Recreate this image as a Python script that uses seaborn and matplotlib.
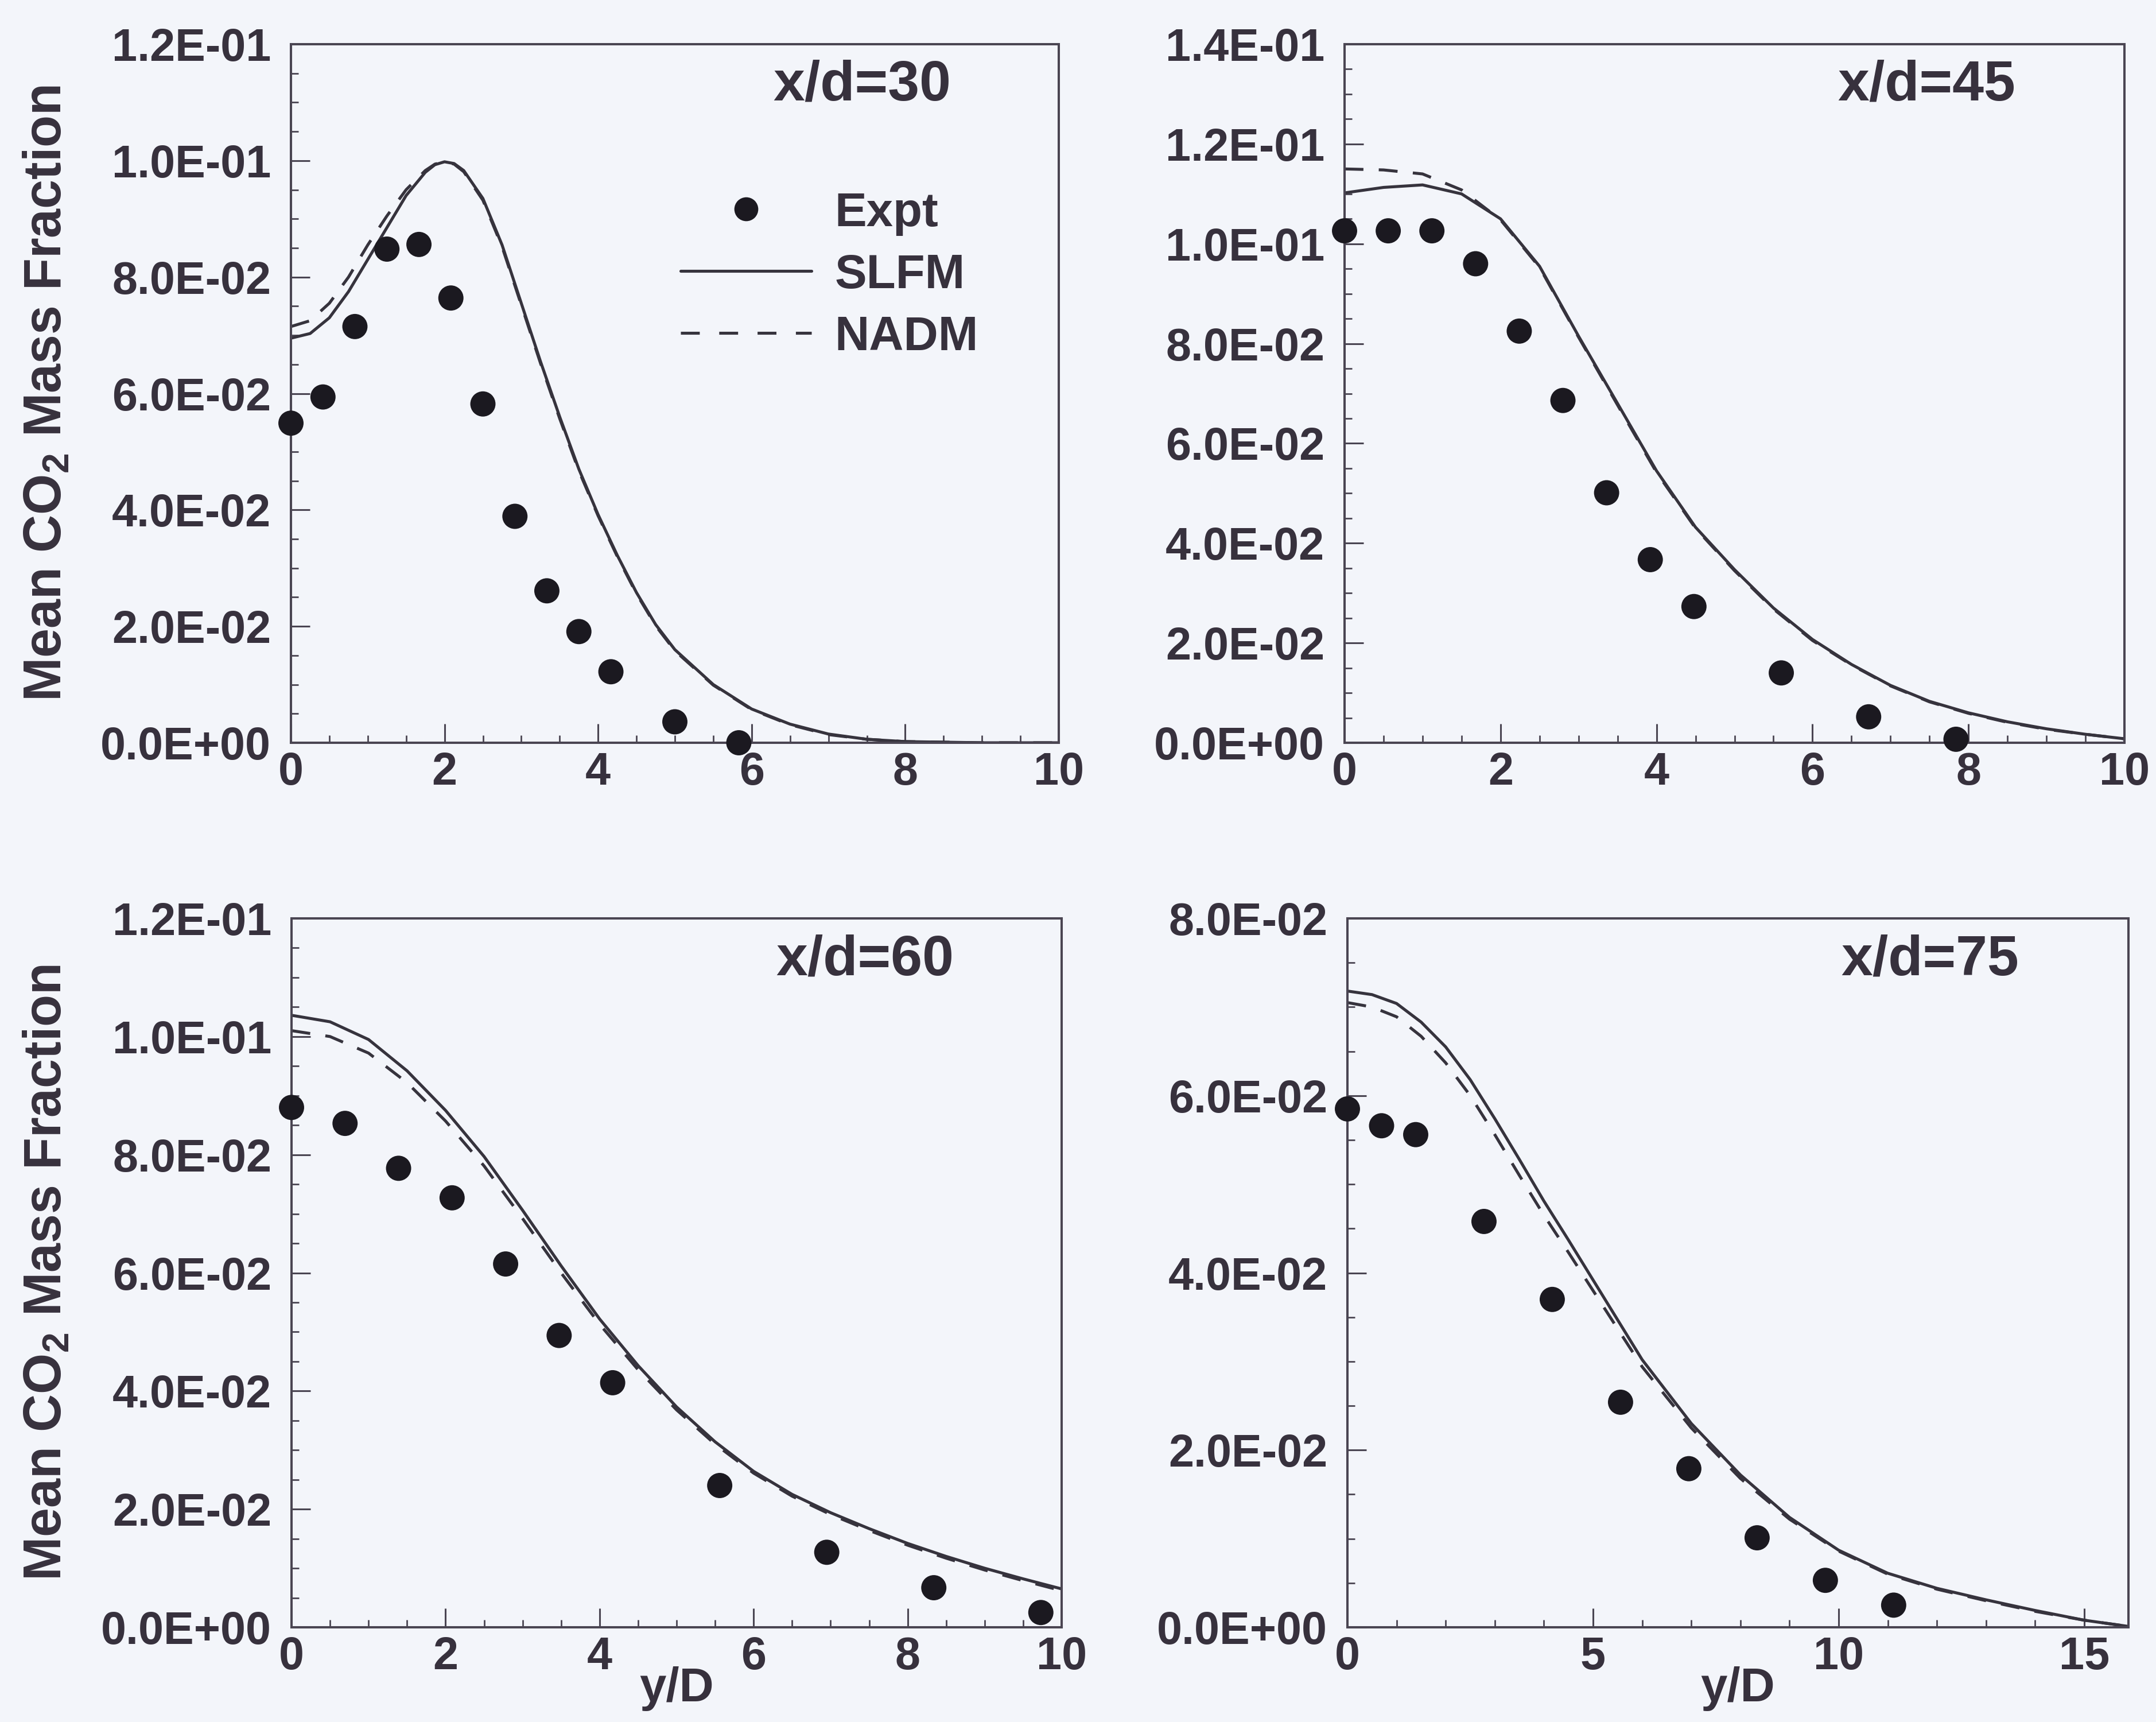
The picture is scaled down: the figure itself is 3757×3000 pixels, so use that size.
import numpy as np
import pandas as pd
import seaborn as sns
import matplotlib
matplotlib.use("Agg")
import matplotlib.pyplot as plt
from matplotlib.lines import Line2D
from matplotlib.ticker import MultipleLocator, FormatStrFormatter

# ---------------- data ----------------
# x/d = 30
x30_model = [0, 0.25, 0.5, 0.75, 1, 1.25, 1.5, 1.75, 1.875, 2, 2.125, 2.25, 2.5, 2.75, 3, 3.25,
             3.5, 3.75, 4, 4.25, 4.5, 4.75, 5, 5.5, 6, 6.5, 7, 7.5, 8, 9, 10]
slfm30 = [0.0695, 0.0703, 0.0730, 0.0775, 0.0830, 0.0885, 0.0940, 0.0980, 0.0993, 0.0998,
          0.0995, 0.0983, 0.0935, 0.0855, 0.0755, 0.0655, 0.0560, 0.0470, 0.0392, 0.0322,
          0.0258, 0.0203, 0.0160, 0.0100, 0.0058, 0.0032, 0.0015, 0.0006, 0.0002, 0.0, 0.0]
nadm30 = [0.0715, 0.0725, 0.0755, 0.0800, 0.0855, 0.0905, 0.0950, 0.0983, 0.0994, 0.0998,
          0.0994, 0.0981, 0.0932, 0.0852, 0.0752, 0.0652, 0.0557, 0.0467, 0.0390, 0.0320,
          0.0256, 0.0201, 0.0158, 0.0099, 0.0057, 0.0031, 0.0014, 0.0006, 0.0002, 0.0, 0.0]
x30_expt = [0, 0.417, 0.833, 1.25, 1.667, 2.083, 2.5, 2.917, 3.333, 3.75, 4.167, 5.0, 5.833]
expt30 = [0.0549, 0.0594, 0.0715, 0.0848, 0.0856, 0.0764, 0.0582, 0.0389, 0.0261, 0.0191,
          0.0122, 0.0036, 0.0]

# x/d = 45
x45_model = [0, 0.5, 1, 1.5, 2, 2.5, 3, 3.5, 4, 4.5, 5, 5.5, 6, 6.5, 7, 7.5, 8, 8.5, 9, 9.5, 10]
slfm45 = [0.1102, 0.1113, 0.1118, 0.1100, 0.1050, 0.0955, 0.0815, 0.0680, 0.0545, 0.0432,
          0.0347, 0.0270, 0.0207, 0.0157, 0.0115, 0.0083, 0.0060, 0.0042, 0.0028, 0.0017, 0.0008]
nadm45 = [0.1150, 0.1148, 0.1140, 0.1108, 0.1048, 0.0953, 0.0813, 0.0677, 0.0542, 0.0430,
          0.0345, 0.0268, 0.0205, 0.0156, 0.0114, 0.0082, 0.0059, 0.0041, 0.0027, 0.0017, 0.0008]
x45_expt = [0, 0.56, 1.12, 1.68, 2.24, 2.8, 3.36, 3.92, 4.48, 5.6, 6.72, 7.84]
expt45 = [0.1026, 0.1026, 0.1026, 0.0960, 0.0825, 0.0686, 0.0501, 0.0367, 0.0273, 0.0140,
          0.0052, 0.0007]

# x/d = 60
x60_model = [0, 0.5, 1, 1.5, 2, 2.5, 3, 3.5, 4, 4.5, 5, 5.5, 6, 6.5, 7, 7.5, 8, 8.5, 9, 9.5, 10]
slfm60 = [0.1036, 0.1025, 0.0995, 0.0942, 0.0875, 0.0797, 0.0706, 0.0612, 0.0522, 0.0443,
          0.0373, 0.0314, 0.0264, 0.0225, 0.0194, 0.0167, 0.0142, 0.0120, 0.0100, 0.0082, 0.0065]
nadm60 = [0.1010, 0.1000, 0.0972, 0.0922, 0.0857, 0.0781, 0.0692, 0.0600, 0.0513, 0.0436,
          0.0368, 0.0310, 0.0261, 0.0222, 0.0191, 0.0164, 0.0139, 0.0117, 0.0097, 0.0079, 0.0062]
x60_expt = [0, 0.695, 1.39, 2.085, 2.78, 3.475, 4.17, 5.56, 6.95, 8.34, 9.73]
expt60 = [0.0880, 0.0853, 0.0777, 0.0727, 0.0615, 0.0494, 0.0414, 0.0240, 0.0127, 0.0067, 0.0025]

# x/d = 75
x75_model = [0, 0.5, 1, 1.5, 2, 2.5, 3, 3.5, 4, 4.5, 5, 6, 7, 8, 9, 10, 11, 12, 13, 14, 15, 15.9]
slfm75 = [0.0718, 0.0714, 0.0704, 0.0683, 0.0655, 0.0618, 0.0574, 0.0528, 0.0481, 0.0437,
          0.0392, 0.0302, 0.0230, 0.0172, 0.0124, 0.0087, 0.0061, 0.0044, 0.0031, 0.0019,
          0.0008, 0.0001]
nadm75 = [0.0705, 0.0700, 0.0689, 0.0667, 0.0637, 0.0600, 0.0556, 0.0510, 0.0465, 0.0423,
          0.0380, 0.0294, 0.0225, 0.0168, 0.0122, 0.0086, 0.0060, 0.0043, 0.0030, 0.0018,
          0.0008, 0.0001]
x75_expt = [0, 0.695, 1.39, 2.78, 4.17, 5.56, 6.95, 8.34, 9.73, 11.12]
expt75 = [0.0585, 0.0566, 0.0556, 0.0458, 0.0370, 0.0254, 0.0179, 0.0101, 0.0053, 0.0025]

panel_titles = ["x/d=30", "x/d=45", "x/d=60", "x/d=75"]
y_limits = [0.12, 0.14, 0.12, 0.08]
x_limits = [10, 10, 10, 15.9]
x_major = [2, 2, 2, 5]
x_minor = [0.5, 0.5, 0.5, 1]
legend_labels = ["Expt", "SLFM", "NADM"]
ylabel_text = "Mean CO$_2$ Mass Fraction"
xlabel_text = "y/D"

# ---------------- style ----------------
sns.set_theme(style="ticks")
BG = "#f3f5fa"
TXT = "#37313d"
SPN = "#4a4552"
LN = "#36333d"
MK = "#1b1920"
plt.rcParams["font.family"] = ["Liberation Sans", "DejaVu Sans"]
plt.rcParams["font.weight"] = "bold"
plt.rcParams["mathtext.fontset"] = "custom"
plt.rcParams["mathtext.rm"] = "Liberation Sans:bold"
plt.rcParams["mathtext.it"] = "Liberation Sans:bold"
plt.rcParams["mathtext.bf"] = "Liberation Sans:bold"

W, H = 3757, 3000
fig = plt.figure(figsize=(W / 100, H / 100), dpi=100, facecolor=BG)

rects = [
    [507 / W, 1 - 1294 / H, (1845 - 507) / W, (1294 - 77) / H],
    [2343 / W, 1 - 1294 / H, (3702 - 2343) / W, (1294 - 77) / H],
    [508 / W, 1 - 2835 / H, (1850 - 508) / W, (2835 - 1600) / H],
    [2348 / W, 1 - 2835 / H, (3709 - 2348) / W, (2835 - 1600) / H],
]

datasets = [
    (x30_model, slfm30, nadm30, x30_expt, expt30),
    (x45_model, slfm45, nadm45, x45_expt, expt45),
    (x60_model, slfm60, nadm60, x60_expt, expt60),
    (x75_model, slfm75, nadm75, x75_expt, expt75),
]

lw = 3.7
dash = (0, (6.4, 5.2))
leg_dash = (0, (6.4, 6.6))

for i, (rect, (xm, s, n, xe, e)) in enumerate(zip(rects, datasets)):
    ax = fig.add_axes(rect)
    ax.set_facecolor(BG)
    sns.lineplot(x=xm, y=s, ax=ax, color=LN, lw=lw, estimator=None, sort=False,
                 errorbar=None, zorder=2)
    sns.lineplot(x=xm, y=n, ax=ax, color=LN, lw=lw, estimator=None, sort=False,
                 errorbar=None, linestyle=dash, zorder=2)
    sns.scatterplot(x=xe, y=e, ax=ax, color=MK, s=1000, edgecolor="none", linewidth=0,
                    zorder=3, clip_on=False)

    ax.set_xlim(0, x_limits[i])
    ax.set_ylim(0, y_limits[i])
    ax.xaxis.set_major_locator(MultipleLocator(x_major[i]))
    ax.xaxis.set_minor_locator(MultipleLocator(x_minor[i]))
    ax.yaxis.set_major_locator(MultipleLocator(0.02))
    ax.yaxis.set_minor_locator(MultipleLocator(0.005))
    ax.yaxis.set_major_formatter(FormatStrFormatter("%.1E"))
    ax.xaxis.set_major_formatter(FormatStrFormatter("%d"))

    for sp in ax.spines.values():
        sp.set_visible(True)
        sp.set_color(SPN)
        sp.set_linewidth(2.9)

    ax.tick_params(axis="both", which="both", direction="in", top=False, right=False,
                   colors=SPN, labelcolor=TXT, labelsize=57)
    ax.tick_params(axis="both", which="major", length=24, width=2.2)
    ax.tick_params(axis="both", which="minor", length=9.5, width=2.0)
    ax.tick_params(axis="y", which="major", pad=25)
    ax.tick_params(axis="x", which="major", pad=11)
    for lab in ax.get_xticklabels() + ax.get_yticklabels():
        lab.set_fontweight("bold")

    ax.text(0.860, 0.92, panel_titles[i], transform=ax.transAxes, ha="right",
            va="baseline", fontsize=71, color=TXT, fontweight="bold")

    if i in (0, 2):
        ax.set_ylabel(ylabel_text, fontsize=66, fontweight="bold", color=TXT)
        ax.yaxis.set_label_coords(-0.285, 0.5)
    else:
        ax.set_ylabel("")
    if i in (2, 3):
        ax.set_xlabel(xlabel_text, fontsize=60, color=TXT, fontweight="bold")
        ax.xaxis.set_label_coords(0.5, -0.055)
    else:
        ax.set_xlabel("")

    if i == 0:
        handles = [
            Line2D([], [], marker="o", ls="none", ms=30, color=MK, markeredgewidth=0),
            Line2D([], [], color=LN, lw=lw),
            Line2D([], [], color=LN, lw=lw, linestyle=leg_dash),
        ]
        leg = ax.legend(handles, legend_labels, loc="upper left",
                        bbox_to_anchor=(0.5075, 0.79), frameon=False,
                        prop={"size": 60, "weight": "bold"},
                        handlelength=2.74, handletextpad=0.48, labelspacing=0.36,
                        borderpad=0, borderaxespad=0)
        for t in leg.get_texts():
            t.set_color(TXT)

fig.savefig("out.png", dpi=100, facecolor=BG)
